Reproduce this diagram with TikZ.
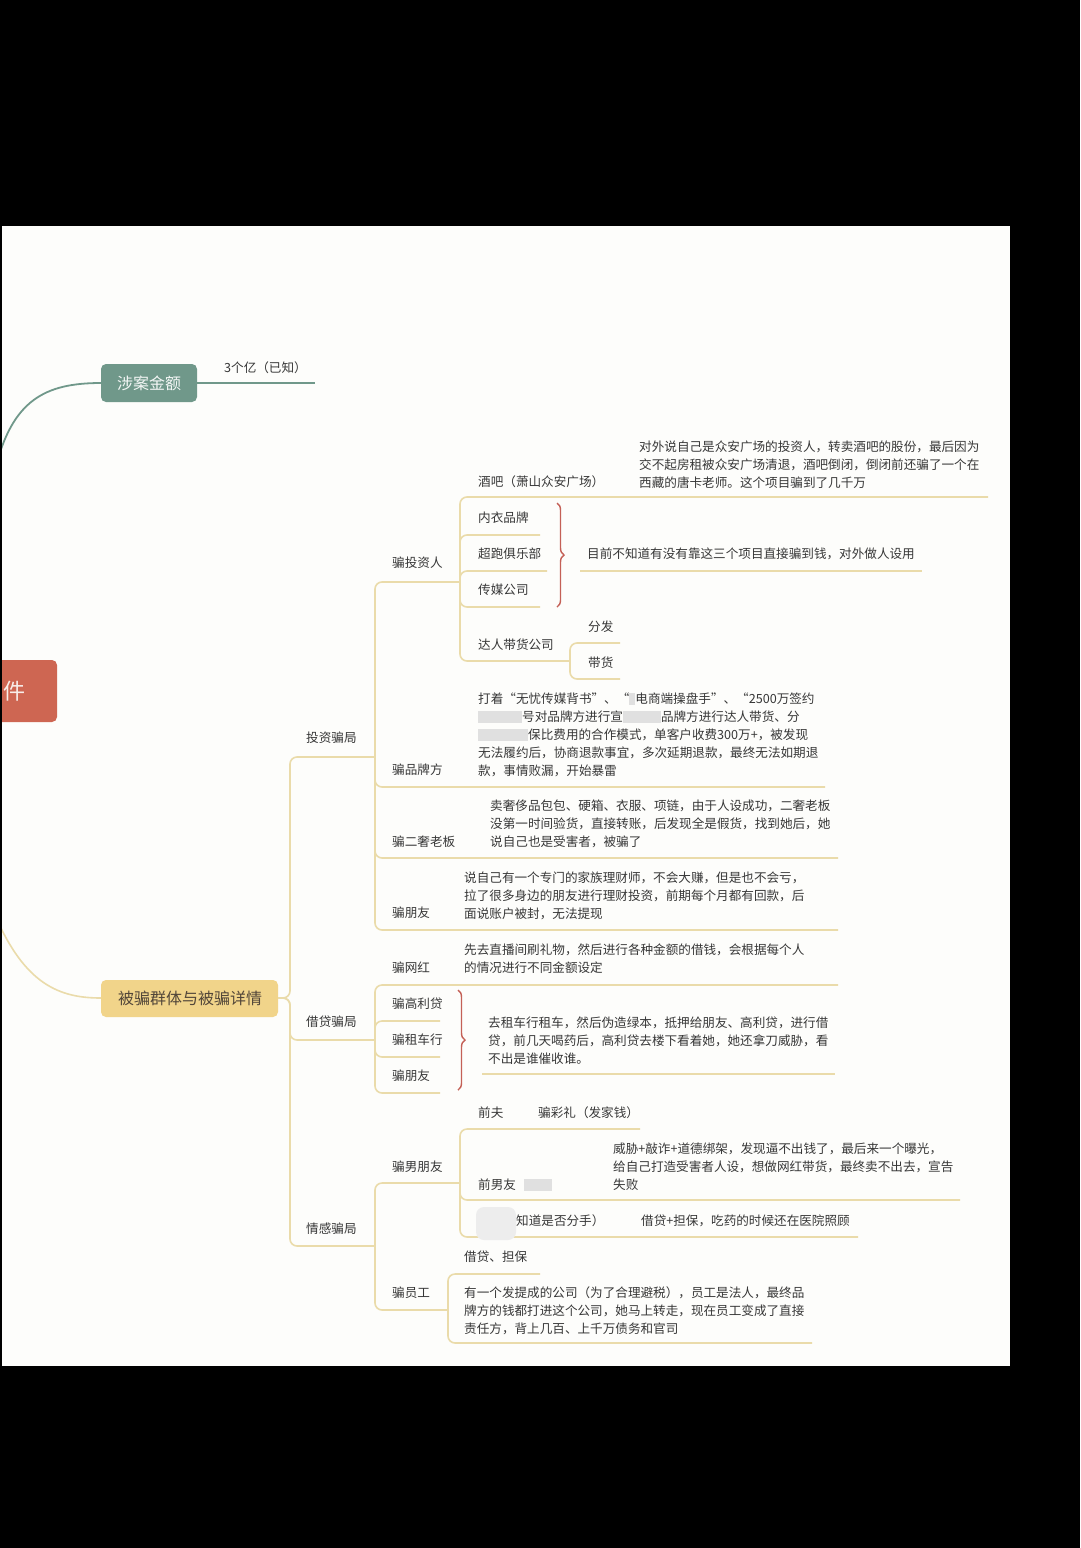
\documentclass[tikz,border=0pt]{standalone}
\usepackage{fontspec}
\setmainfont{Noto Sans CJK SC}
\usepackage{xcolor}
\usepackage{tikz}
\usetikzlibrary{decorations.pathreplacing}
\definecolor{mmgold}{RGB}{234,219,170}
\definecolor{mmgoldfill}{RGB}{241,212,138}
\definecolor{mmgreen}{RGB}{112,152,138}
\definecolor{mmred}{RGB}{206,102,82}
\definecolor{mmink}{RGB}{55,55,55}
\definecolor{mmbrace}{RGB}{196,96,86}
\definecolor{mmpaper}{RGB}{253,253,251}
\newcommand{\lf}{\fontsize{12.6}{18}\selectfont}
\newcommand{\blr}[1]{{\color{black!12}\rule[-2pt]{#1}{12pt}}}

\begin{document}
\begin{tikzpicture}[
x=1pt, y=-1pt,
leaf/.style={anchor=base west, inner sep=0pt, align=left, font=\lf, text=mmink},
topic/.style={rounded corners=5pt, inner sep=0pt},
gline/.style={draw=mmgold, line width=1.6pt, rounded corners=7pt},
greenline/.style={draw=mmgreen, line width=1.8pt},
bracebar/.style={draw=mmbrace, line width=1.4pt, decorate,
decoration={brace, amplitude=7pt}}
]
\fill[black] (0,0) rectangle (1080,1548);
\fill[mmpaper] (2,226) rectangle (1010,1366);
\begin{scope}
\clip (2,226) rectangle (1010,1366);

% main topics
\fill[mmred, topic] (-20,660) rectangle (57,722);
\node[text=mmpaper!90!mmred, font=\fontsize{22}{24}\selectfont] (jian) at (15,691) {件};
\fill[mmgreen, topic] (101,364) rectangle (197,402);
\node[text=white!92!mmgreen, font=\fontsize{16}{18}\selectfont] (zaj) at (149,383) {涉案金额};
\fill[mmgoldfill, topic] (101,980) rectangle (278,1017);
\node[text=mmink!80!brown, font=\fontsize{16}{18}\selectfont] (bp) at (190,998) {被骗群体与被骗详情};

% curves from centre
\draw[greenline] (-5,470) .. controls (12,400) and (45,383) .. (101,383);
\draw[greenline] (197,383) -- (315,383);
\draw[gline] (-5,915) .. controls (25,985) and (60,998) .. (101,998);

% branch lines
\draw[gline] (278,998) -- (290,998) -- (290,757) -- (375,757);
\draw[gline] (278,998) -- (290,998) -- (290,1040) -- (375,1040);
\draw[gline] (278,998) -- (290,998) -- (290,1246) -- (375,1246);
% 投资骗局
\draw[gline] (375,757) -- (375,582) -- (460,582);
\draw[gline] (375,757) -- (375,787) -- (825,787);
\draw[gline] (375,757) -- (375,858) -- (838,858);
\draw[gline] (375,757) -- (375,930) -- (838,930);
\draw[gline] (460,582) -- (460,497) -- (988,497);
\draw[gline] (460,582) -- (460,535) -- (540,535);
\draw[gline] (460,582) -- (460,571) -- (547,571);
\draw[gline] (460,582) -- (460,607) -- (540,607);
\draw[gline] (460,582) -- (460,661) -- (570,661);
\draw[gline] (570,661) -- (570,643) -- (620,643);
\draw[gline] (570,661) -- (570,679) -- (620,679);
\draw[gline] (580,571) -- (922,571);
% 借贷骗局
\draw[gline] (375,1040) -- (375,985) -- (838,985);
\draw[gline] (375,1040) -- (375,1021) -- (440,1021);
\draw[gline] (375,1040) -- (375,1057) -- (440,1057);
\draw[gline] (375,1040) -- (375,1093) -- (440,1093);
\draw[gline] (482,1074) -- (835,1074);
% 情感骗局
\draw[gline] (375,1246) -- (375,1183) -- (460,1183);
\draw[gline] (375,1246) -- (375,1310) -- (448,1310);
\draw[gline] (460,1183) -- (460,1129) -- (640,1129);
\draw[gline] (460,1183) -- (460,1200) -- (960,1200);
\draw[gline] (460,1183) -- (460,1237) -- (858,1237);
\draw[gline] (448,1310) -- (448,1274) -- (540,1274);
\draw[gline] (448,1310) -- (448,1343) -- (812,1343);

% braces
\draw[bracebar] (557,503) -- (557,607);
\draw[bracebar] (458,990) -- (458,1090);

% labels
\node[leaf] (amt) at (224,372) {3个亿（已知）};
\node[leaf] (tz) at (306,742) {投资骗局};
\node[leaf] (jd) at (306,1026) {借贷骗局};
\node[leaf] (qg) at (306,1233) {情感骗局};

\node[leaf] (ptzr) at (392,567) {骗投资人};
\node[leaf] (jb) at (478,486) {酒吧（萧山众安广场）};
\node[leaf] (jbt) at (639,487) {对外说自己是众安广场的投资人，转卖酒吧的股份，最后因为\\交不起房租被众安广场清退，酒吧倒闭，倒闭前还骗了一个在\\西藏的唐卡老师。这个项目骗到了几千万};
\node[leaf] (ny) at (478,522) {内衣品牌};
\node[leaf] (cp) at (478,558) {超跑俱乐部};
\node[leaf] (cm) at (478,594) {传媒公司};
\node[leaf] (sum1) at (587,558) {目前不知道有没有靠这三个项目直接骗到钱，对外做人设用};
\node[leaf] (dr) at (478,649) {达人带货公司};
\node[leaf] (ff) at (588,631) {分发};
\node[leaf] (dh) at (588,667) {带货};

\node[leaf] (ppp) at (392,774) {骗品牌方};
\node[leaf] (pppt) at (478,775) {打着“无忧传媒背书”、“\blr{6pt}电商端操盘手”、“2500万签约\\\blr{44pt}号对品牌方进行宣\blr{38pt}品牌方进行达人带货、分\\\blr{50pt}保比费用的合作模式，单客户收费300万+，被发现\\无法履约后，协商退款事宜，多次延期退款，最终无法如期退\\款，事情败漏，开始暴雷};
\node[leaf] (pes) at (392,846) {骗二奢老板};
\node[leaf] (pest) at (490,846) {卖奢侈品包包、硬箱、衣服、项链，由于人设成功，二奢老板\\没第一时间验货，直接转账，后发现全是假货，找到她后，她\\说自己也是受害者，被骗了};
\node[leaf] (ppy1) at (392,917) {骗朋友};
\node[leaf] (ppyt) at (464,918) {说自己有一个专门的家族理财师，不会大赚，但是也不会亏，\\拉了很多身边的朋友进行理财投资，前期每个月都有回款，后\\面说账户被封，无法提现};

\node[leaf] (pwh) at (392,972) {骗网红};
\node[leaf] (pwht) at (464,972) {先去直播间刷礼物，然后进行各种金额的借钱，会根据每个人\\的情况进行不同金额设定};
\node[leaf] (pgl) at (392,1008) {骗高利贷};
\node[leaf] (pzc) at (392,1044) {骗租车行};
\node[leaf] (ppy2) at (392,1080) {骗朋友};
\node[leaf] (sum2) at (488,1063) {去租车行租车，然后伪造绿本，抵押给朋友、高利贷，进行借\\贷，前几天喝药后，高利贷去楼下看着她，她还拿刀威胁，看\\不出是谁催收谁。};

\node[leaf] (pnp) at (392,1171) {骗男朋友};
\node[leaf] (qf) at (478,1117) {前夫};
\node[leaf] (qft) at (538,1117) {骗彩礼（发家钱）};
\node[leaf] (qny) at (478,1189) {前男友\hspace{8pt}\blr{28pt}};
\node[leaf] (qnyt) at (613,1189) {威胁+敲诈+道德绑架，发现逼不出钱了，最后来一个曝光，\\给自己打造受害者人设，想做网红带货，最终卖不出去，宣告\\失败};
\fill[black!7, rounded corners=8pt] (476,1207) rectangle (516,1240);
\node[leaf] (bzd) at (516,1225) {知道是否分手）};
\node[leaf] (bzdt) at (641,1225) {借贷+担保，吃药的时候还在医院照顾};
\node[leaf] (pyg) at (392,1297) {骗员工};
\node[leaf] (jddb) at (464,1261) {借贷、担保};
\node[leaf] (ygt) at (464,1333) {有一个发提成的公司（为了合理避税），员工是法人，最终品\\牌方的钱都打进这个公司，她马上转走，现在员工变成了直接\\责任方，背上几百、上千万债务和官司};
\end{scope}
\end{tikzpicture}
\end{document}
